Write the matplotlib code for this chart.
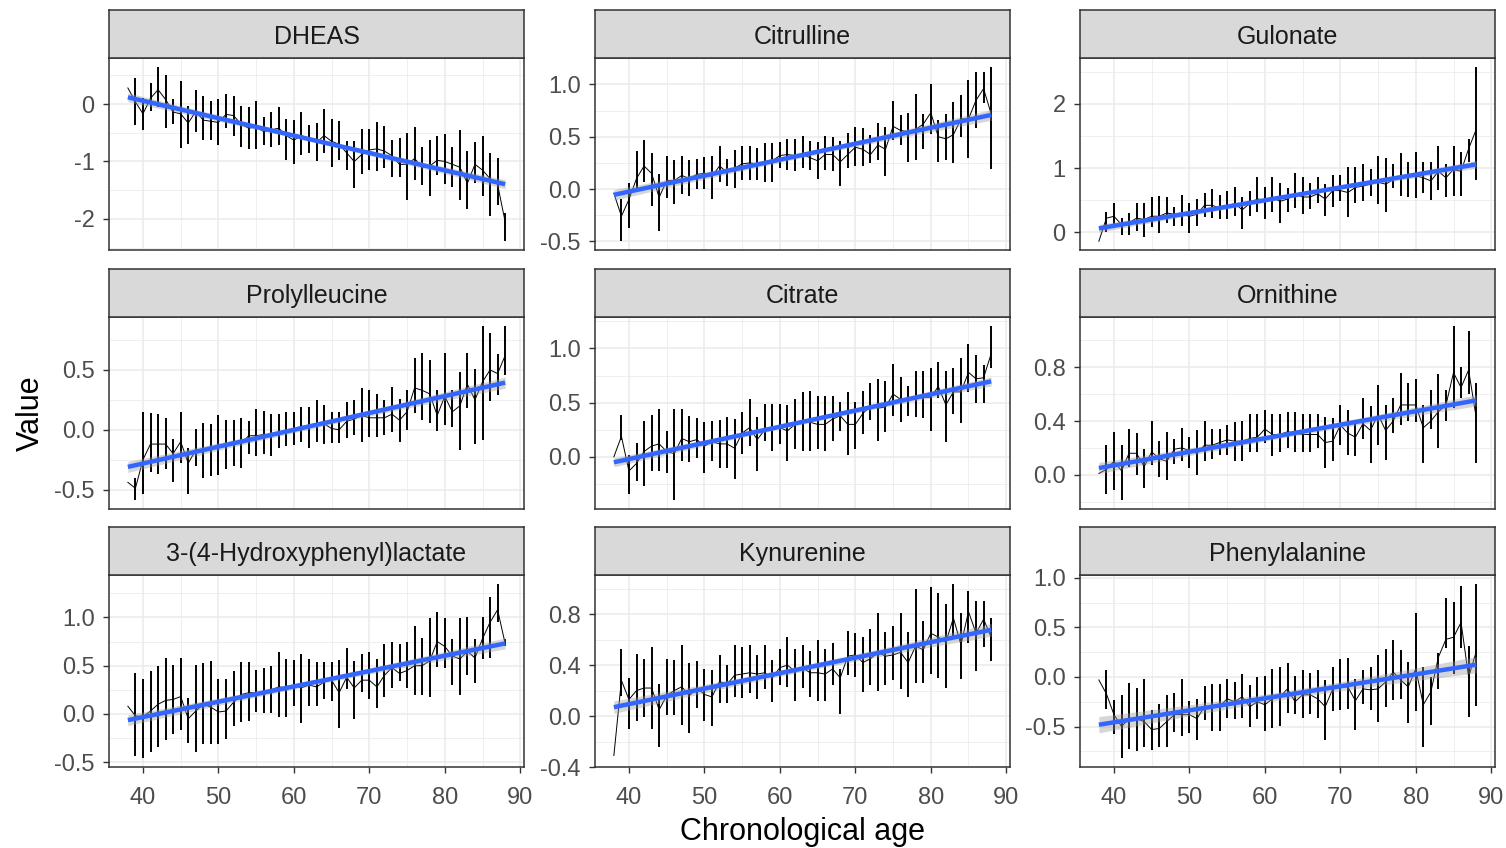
#!/usr/bin/env python3
'''
Mean metabolite value by chronological age, 3x3 facets with lm fit
'''

import numpy as np
import matplotlib
matplotlib.use('Agg')
import matplotlib.pyplot as plt
from matplotlib.ticker import AutoMinorLocator

plt.rcParams['font.family'] = ['Liberation Sans', 'DejaVu Sans']

# ages for the mean line; error bars start one year later
ages = list(range(38, 89))
bar_ages = ages[1:]

dheas_mean = [0.28, 0.04, -0.17, 0.10, 0.25, 0.08, -0.14, -0.17, -0.33, -0.13, -0.28, -0.30, -0.32, -0.18, -0.20, -0.35, -0.42, -0.40, -0.48, -0.45, -0.42, -0.55, -0.63, -0.55, -0.60, -0.67, -0.55, -0.65, -0.70, -0.85, -1.00, -0.88, -0.80, -0.78, -0.82, -0.90, -1.05, -1.05, -0.95, -1.10, -1.08, -0.98, -1.00, -1.05, -1.10, -1.38, -1.05, -1.15, -1.30, -1.40, -2.05]
dheas_hi = [0.45, 0.10, 0.37, 0.65, 0.51, 0.09, 0.41, -0.03, 0.24, 0.14, 0.05, 0.09, 0.18, 0.14, -0.03, -0.06, 0.05, -0.23, -0.13, -0.06, -0.26, -0.28, -0.13, -0.36, -0.33, -0.09, -0.26, -0.30, -0.65, -0.65, -0.43, -0.43, -0.31, -0.39, -0.63, -0.60, -0.50, -0.40, -0.74, -0.63, -0.55, -0.53, -0.74, -0.45, -0.81, -0.66, -0.56, -0.86, -0.94, -1.90]
dheas_lo = [-0.37, -0.46, -0.12, -0.06, -0.41, -0.35, -0.76, -0.69, -0.49, -0.62, -0.62, -0.72, -0.41, -0.55, -0.74, -0.78, -0.78, -0.72, -0.75, -0.72, -0.97, -1.04, -0.89, -0.86, -1.00, -0.86, -1.10, -0.97, -1.14, -1.47, -1.21, -1.15, -1.17, -1.12, -1.27, -1.27, -1.67, -1.33, -1.41, -1.61, -1.24, -1.39, -1.44, -1.67, -1.82, -1.38, -1.61, -1.95, -1.76, -2.39]

citrulline_mean = [-0.04, -0.26, -0.10, 0.10, 0.22, 0.15, -0.08, 0.08, 0.08, 0.13, 0.10, 0.14, 0.15, 0.12, 0.22, 0.16, 0.20, 0.24, 0.25, 0.24, 0.25, 0.27, 0.32, 0.33, 0.32, 0.33, 0.30, 0.27, 0.33, 0.33, 0.26, 0.33, 0.40, 0.38, 0.33, 0.42, 0.38, 0.60, 0.56, 0.55, 0.57, 0.62, 0.73, 0.50, 0.48, 0.52, 0.67, 0.67, 0.85, 0.96, 0.72]
citrulline_hi = [-0.10, 0.06, 0.36, 0.47, 0.34, 0.14, 0.32, 0.28, 0.32, 0.28, 0.29, 0.31, 0.32, 0.41, 0.29, 0.37, 0.41, 0.41, 0.39, 0.44, 0.44, 0.45, 0.48, 0.48, 0.51, 0.46, 0.45, 0.51, 0.50, 0.46, 0.54, 0.59, 0.58, 0.52, 0.63, 0.59, 0.84, 0.71, 0.73, 0.91, 0.72, 1.00, 0.66, 0.72, 0.83, 0.90, 1.04, 1.12, 1.12, 1.17]
citrulline_lo = [-0.50, -0.37, -0.01, 0.07, -0.16, -0.40, -0.09, -0.14, -0.05, -0.07, 0.00, 0.00, -0.10, 0.07, 0.03, 0.01, 0.09, 0.09, 0.09, 0.07, 0.07, 0.20, 0.18, 0.17, 0.20, 0.18, 0.10, 0.18, 0.17, 0.03, 0.20, 0.22, 0.22, 0.25, 0.28, 0.12, 0.47, 0.42, 0.26, 0.28, 0.38, 0.53, 0.26, 0.28, 0.25, 0.50, 0.30, 0.58, 0.82, 0.19]

gulonate_mean = [-0.14, 0.22, 0.25, 0.12, 0.15, 0.22, 0.20, 0.25, 0.25, 0.30, 0.28, 0.28, 0.25, 0.28, 0.42, 0.42, 0.38, 0.40, 0.45, 0.35, 0.45, 0.52, 0.50, 0.55, 0.48, 0.52, 0.60, 0.55, 0.55, 0.60, 0.52, 0.65, 0.65, 0.62, 0.70, 0.72, 0.75, 0.78, 0.75, 0.82, 0.88, 0.88, 0.88, 0.85, 0.80, 0.95, 0.85, 0.98, 0.95, 1.30, 1.60]
gulonate_hi = [0.32, 0.45, 0.22, 0.30, 0.45, 0.45, 0.55, 0.56, 0.55, 0.39, 0.58, 0.46, 0.52, 0.62, 0.67, 0.58, 0.65, 0.70, 0.55, 0.65, 0.86, 0.71, 0.86, 0.77, 0.69, 0.92, 0.86, 0.77, 0.86, 0.76, 0.89, 0.89, 1.01, 1.01, 1.07, 0.98, 1.19, 1.16, 1.07, 1.23, 1.10, 1.25, 1.10, 1.10, 1.34, 1.07, 1.34, 1.25, 1.45, 2.58]
gulonate_lo = [0.00, 0.09, -0.04, -0.05, 0.02, -0.07, 0.09, -0.01, 0.14, 0.10, 0.10, -0.01, 0.10, 0.24, 0.22, 0.20, 0.20, 0.26, 0.05, 0.26, 0.32, 0.21, 0.32, 0.14, 0.31, 0.38, 0.29, 0.36, 0.45, 0.25, 0.40, 0.48, 0.24, 0.45, 0.48, 0.57, 0.44, 0.32, 0.69, 0.57, 0.55, 0.53, 0.62, 0.51, 0.66, 0.55, 0.57, 0.57, 1.10, 0.81]

prolylleucine_mean = [-0.44, -0.49, -0.25, -0.12, -0.12, -0.12, -0.20, -0.10, -0.28, -0.17, -0.17, -0.17, -0.13, -0.12, -0.10, -0.12, -0.05, -0.05, -0.04, -0.05, -0.02, -0.02, 0.00, 0.03, 0.02, 0.05, 0.05, 0.01, 0.00, 0.07, 0.09, 0.12, 0.10, 0.10, 0.10, 0.13, 0.08, 0.15, 0.35, 0.33, 0.30, 0.12, 0.28, 0.15, 0.20, 0.38, 0.25, 0.40, 0.50, 0.47, 0.62]
prolylleucine_hi = [-0.40, 0.15, 0.14, 0.13, 0.10, -0.08, 0.15, -0.15, 0.01, 0.06, 0.05, 0.12, 0.08, 0.08, 0.10, 0.07, 0.17, 0.16, 0.13, 0.13, 0.15, 0.15, 0.19, 0.19, 0.25, 0.21, 0.15, 0.15, 0.23, 0.25, 0.35, 0.33, 0.30, 0.25, 0.36, 0.26, 0.33, 0.60, 0.64, 0.58, 0.33, 0.64, 0.33, 0.48, 0.64, 0.51, 0.87, 0.81, 0.63, 0.87]
prolylleucine_lo = [-0.59, -0.54, -0.35, -0.37, -0.33, -0.44, -0.28, -0.54, -0.30, -0.40, -0.39, -0.38, -0.33, -0.30, -0.32, -0.20, -0.22, -0.20, -0.22, -0.15, -0.14, -0.13, -0.10, -0.15, -0.10, -0.12, -0.11, -0.11, -0.07, -0.04, -0.10, -0.06, -0.06, -0.04, -0.02, -0.10, 0.00, 0.14, 0.08, 0.06, -0.01, 0.04, 0.02, -0.17, 0.18, -0.12, -0.09, 0.24, 0.29, 0.46]

citrate_mean = [0.00, 0.19, -0.13, -0.06, 0.05, 0.10, 0.12, 0.05, 0.03, 0.17, 0.14, 0.16, 0.10, 0.14, 0.12, 0.12, 0.08, 0.22, 0.27, 0.16, 0.25, 0.27, 0.27, 0.24, 0.30, 0.33, 0.32, 0.30, 0.30, 0.35, 0.38, 0.30, 0.30, 0.40, 0.47, 0.45, 0.46, 0.58, 0.53, 0.52, 0.54, 0.55, 0.55, 0.65, 0.48, 0.60, 0.60, 0.78, 0.72, 0.73, 0.95]
citrate_hi = [0.39, 0.02, 0.13, 0.33, 0.39, 0.44, 0.24, 0.44, 0.44, 0.38, 0.36, 0.32, 0.33, 0.34, 0.37, 0.35, 0.41, 0.53, 0.37, 0.49, 0.49, 0.49, 0.48, 0.53, 0.60, 0.61, 0.56, 0.56, 0.56, 0.51, 0.60, 0.51, 0.61, 0.68, 0.72, 0.70, 0.86, 0.74, 0.65, 0.79, 0.79, 0.82, 0.88, 0.79, 0.82, 0.91, 1.04, 0.94, 0.85, 1.21]
citrate_lo = [0.16, -0.34, -0.22, -0.27, -0.13, -0.13, -0.15, -0.40, -0.04, -0.05, -0.01, -0.15, -0.04, -0.10, -0.10, -0.20, 0.03, 0.10, -0.13, 0.15, 0.05, 0.12, -0.04, 0.07, 0.05, 0.05, 0.07, 0.05, 0.15, 0.24, 0.02, 0.07, 0.21, 0.34, 0.15, 0.23, 0.38, 0.32, 0.38, 0.37, 0.36, 0.24, 0.54, 0.14, 0.40, 0.31, 0.60, 0.50, 0.50, 0.82]

ornithine_mean = [0.01, 0.04, 0.10, 0.03, 0.16, 0.16, 0.06, 0.17, 0.12, 0.10, 0.19, 0.20, 0.18, 0.16, 0.22, 0.22, 0.24, 0.26, 0.25, 0.25, 0.27, 0.28, 0.34, 0.30, 0.30, 0.32, 0.31, 0.30, 0.30, 0.30, 0.24, 0.25, 0.37, 0.31, 0.28, 0.38, 0.33, 0.45, 0.33, 0.40, 0.52, 0.52, 0.52, 0.35, 0.40, 0.47, 0.52, 0.76, 0.65, 0.78, 0.43]
ornithine_hi = [0.22, 0.32, 0.22, 0.34, 0.31, 0.19, 0.40, 0.25, 0.32, 0.27, 0.35, 0.28, 0.33, 0.40, 0.34, 0.34, 0.37, 0.39, 0.40, 0.45, 0.45, 0.48, 0.45, 0.45, 0.47, 0.47, 0.45, 0.45, 0.45, 0.43, 0.42, 0.52, 0.48, 0.40, 0.57, 0.51, 0.67, 0.52, 0.57, 0.76, 0.68, 0.71, 0.52, 0.63, 0.75, 0.63, 1.11, 0.80, 1.07, 0.68]
ornithine_lo = [-0.14, -0.11, -0.19, 0.06, 0.00, -0.10, 0.07, -0.02, -0.04, 0.08, 0.10, 0.05, 0.00, 0.10, 0.12, 0.15, 0.15, 0.10, 0.10, 0.17, 0.17, 0.24, 0.14, 0.17, 0.20, 0.17, 0.17, 0.17, 0.20, 0.05, 0.10, 0.22, 0.15, 0.14, 0.27, 0.09, 0.22, 0.11, 0.31, 0.37, 0.40, 0.39, 0.09, 0.34, 0.20, 0.40, 0.50, 0.57, 0.60, 0.09]

hpl_mean = [0.08, -0.02, -0.03, 0.03, 0.10, 0.14, 0.15, 0.18, -0.05, 0.03, 0.10, 0.07, 0.02, 0.03, 0.12, 0.20, 0.22, 0.22, 0.23, 0.25, 0.28, 0.27, 0.30, 0.27, 0.30, 0.28, 0.33, 0.35, 0.22, 0.38, 0.27, 0.35, 0.35, 0.28, 0.40, 0.48, 0.42, 0.45, 0.50, 0.50, 0.55, 0.75, 0.70, 0.60, 0.57, 0.65, 0.58, 0.78, 0.95, 1.08, 0.73]
hpl_hi = [0.42, 0.36, 0.44, 0.50, 0.58, 0.51, 0.58, 0.16, 0.51, 0.53, 0.55, 0.36, 0.36, 0.44, 0.54, 0.54, 0.46, 0.48, 0.50, 0.64, 0.57, 0.56, 0.62, 0.57, 0.54, 0.54, 0.54, 0.56, 0.68, 0.55, 0.62, 0.64, 0.57, 0.72, 0.75, 0.72, 0.75, 0.91, 0.79, 0.99, 1.06, 0.99, 0.78, 0.99, 1.01, 0.78, 1.01, 1.21, 1.35, 0.78]
hpl_lo = [-0.44, -0.46, -0.40, -0.34, -0.27, -0.21, -0.17, -0.30, -0.40, -0.31, -0.31, -0.31, -0.26, -0.13, -0.08, -0.07, 0.02, 0.01, 0.01, -0.03, -0.03, 0.08, -0.09, 0.08, 0.08, 0.15, 0.13, -0.15, 0.26, -0.05, 0.23, 0.15, 0.06, 0.18, 0.27, 0.34, 0.27, 0.20, 0.20, 0.18, 0.49, 0.48, 0.30, 0.20, 0.40, 0.32, 0.57, 0.58, 0.95, 0.70]

kynurenine_mean = [-0.31, 0.28, 0.13, 0.20, 0.22, 0.22, 0.05, 0.16, 0.20, 0.23, 0.16, 0.22, 0.17, 0.15, 0.27, 0.25, 0.32, 0.33, 0.34, 0.33, 0.34, 0.30, 0.38, 0.40, 0.35, 0.38, 0.34, 0.34, 0.33, 0.37, 0.30, 0.47, 0.48, 0.42, 0.45, 0.50, 0.47, 0.48, 0.50, 0.42, 0.55, 0.52, 0.65, 0.62, 0.58, 0.77, 0.56, 0.82, 0.65, 0.76, 0.62]
kynurenine_hi = [0.53, 0.30, 0.49, 0.45, 0.54, 0.25, 0.45, 0.44, 0.56, 0.42, 0.43, 0.37, 0.36, 0.48, 0.40, 0.56, 0.54, 0.56, 0.48, 0.56, 0.44, 0.53, 0.62, 0.53, 0.56, 0.51, 0.60, 0.53, 0.57, 0.37, 0.67, 0.65, 0.62, 0.68, 0.81, 0.66, 0.71, 0.81, 0.66, 1.00, 0.75, 1.01, 0.97, 0.88, 1.04, 0.81, 0.98, 0.90, 0.90, 0.77]
kynurenine_lo = [0.16, -0.10, -0.04, -0.01, -0.10, -0.24, 0.01, 0.01, -0.07, -0.13, 0.06, -0.04, -0.08, 0.10, 0.10, 0.15, 0.14, 0.18, 0.13, 0.21, 0.11, 0.24, 0.23, 0.12, 0.22, 0.15, 0.12, 0.12, 0.24, 0.02, 0.32, 0.31, 0.19, 0.24, 0.20, 0.24, 0.28, 0.21, 0.15, 0.26, 0.26, 0.33, 0.30, 0.22, 0.62, 0.29, 0.57, 0.35, 0.54, 0.43]

phenylalanine_mean = [-0.03, -0.17, -0.38, -0.50, -0.42, -0.42, -0.45, -0.53, -0.52, -0.45, -0.38, -0.38, -0.38, -0.42, -0.30, -0.30, -0.30, -0.22, -0.25, -0.20, -0.30, -0.25, -0.28, -0.22, -0.20, -0.12, -0.25, -0.18, -0.18, -0.22, -0.30, -0.12, -0.10, -0.10, -0.24, -0.12, -0.13, -0.12, -0.05, 0.05, -0.03, -0.10, 0.08, -0.28, -0.15, 0.20, 0.38, 0.40, 0.55, 0.00, 0.25]
phenylalanine_hi = [0.07, -0.23, -0.18, -0.06, -0.11, -0.02, -0.33, -0.27, -0.18, -0.16, -0.02, -0.24, -0.22, -0.09, -0.07, -0.07, -0.02, -0.05, 0.03, -0.08, 0.00, 0.01, 0.08, 0.10, 0.14, 0.01, 0.07, 0.04, 0.07, -0.03, 0.10, 0.18, 0.19, -0.02, 0.07, 0.10, 0.22, 0.28, 0.37, 0.27, 0.15, 0.64, 0.10, 0.00, 0.24, 0.80, 0.76, 0.92, 0.31, 0.94]
phenylalanine_lo = [-0.32, -0.58, -0.82, -0.73, -0.75, -0.71, -0.74, -0.71, -0.71, -0.56, -0.60, -0.57, -0.64, -0.43, -0.54, -0.54, -0.41, -0.42, -0.41, -0.50, -0.42, -0.54, -0.51, -0.49, -0.36, -0.37, -0.41, -0.37, -0.41, -0.64, -0.34, -0.33, -0.32, -0.53, -0.27, -0.33, -0.45, -0.30, -0.23, -0.22, -0.46, -0.34, -0.71, -0.48, -0.12, 0.29, 0.03, 0.29, -0.40, -0.29]

titles = ["DHEAS", "Citrulline", "Gulonate",
          "Prolylleucine", "Citrate", "Ornithine",
          "3-(4-Hydroxyphenyl)lactate", "Kynurenine", "Phenylalanine"]

yticks = [[-2, -1, 0], [-0.5, 0.0, 0.5, 1.0], [0, 1, 2],
          [-0.5, 0.0, 0.5], [0.0, 0.5, 1.0], [0.0, 0.4, 0.8],
          [-0.5, 0.0, 0.5, 1.0], [-0.4, 0.0, 0.4, 0.8], [-0.5, 0.0, 0.5, 1.0]]
ytick_labels = [["-2", "-1", "0"], ["-0.5", "0.0", "0.5", "1.0"], ["0", "1", "2"],
                ["-0.5", "0.0", "0.5"], ["0.0", "0.5", "1.0"], ["0.0", "0.4", "0.8"],
                ["-0.5", "0.0", "0.5", "1.0"], ["-0.4", "0.0", "0.4", "0.8"],
                ["-0.5", "0.0", "0.5", "1.0"]]
xticks = [40, 50, 60, 70, 80, 90]

series = [(dheas_mean, dheas_lo, dheas_hi),
          (citrulline_mean, citrulline_lo, citrulline_hi),
          (gulonate_mean, gulonate_lo, gulonate_hi),
          (prolylleucine_mean, prolylleucine_lo, prolylleucine_hi),
          (citrate_mean, citrate_lo, citrate_hi),
          (ornithine_mean, ornithine_lo, ornithine_hi),
          (hpl_mean, hpl_lo, hpl_hi),
          (kynurenine_mean, kynurenine_lo, kynurenine_hi),
          (phenylalanine_mean, phenylalanine_lo, phenylalanine_hi)]

W, H = 1506, 848
col_x = [109, 595, 1080]
row_y = [58, 317, 575]
panel_w, panel_h, strip_h = 415, 192, 48

BORDER = '#333333'
GRID = '#EBEBEB'
TICKSIZE = 17


def rect(x, y, w, h):
    return [x / W, 1 - (y + h) / H, w / W, h / H]


def lm_band(x, y):
    x = np.asarray(x, float)
    y = np.asarray(y, float)
    b, a = np.polyfit(x, y, 1)
    xs = np.linspace(x.min(), x.max(), 80)
    fit = a + b * xs
    resid = y - (a + b * x)
    n = len(x)
    s = np.sqrt(np.sum(resid ** 2) / (n - 2))
    sxx = np.sum((x - x.mean()) ** 2)
    se = s * np.sqrt(1.0 / n + (xs - x.mean()) ** 2 / sxx)
    return xs, fit, 2.01 * se


fig = plt.figure(figsize=(W / 100, H / 100), dpi=100)

for i, (mean, lo, hi) in enumerate(series):
    r, c = divmod(i, 3)
    ax = fig.add_axes(rect(col_x[c], row_y[r], panel_w, panel_h))

    ax.plot(ages, mean, color='black', lw=0.7, zorder=3)
    ax.vlines(bar_ages, lo, hi, color='black', lw=1.4, zorder=3)

    xs, fit, ci = lm_band(ages, mean)
    ax.fill_between(xs, fit - ci, fit + ci, color='#999999', alpha=0.4,
                    lw=0, zorder=4)
    ax.plot(xs, fit, color='#3366FF', lw=3.2, zorder=5, solid_capstyle='butt')

    # ggplot-like 5% expansion
    ymin = min(min(lo), min(mean))
    ymax = max(max(hi), max(mean))
    pad = 0.05 * (ymax - ymin)
    ax.set_ylim(ymin - pad, ymax + pad)
    xpad = 0.05 * (ages[-1] - ages[0])
    ax.set_xlim(ages[0] - xpad, ages[-1] + xpad)

    ax.set_yticks(yticks[i])
    ax.set_yticklabels(ytick_labels[i])
    ax.set_xticks(xticks)
    ax.xaxis.set_minor_locator(AutoMinorLocator(2))
    ax.yaxis.set_minor_locator(AutoMinorLocator(2))
    ax.grid(which='major', color=GRID, lw=1.1, zorder=0)
    ax.grid(which='minor', color=GRID, lw=0.55, zorder=0)
    ax.set_axisbelow(True)

    ax.tick_params(which='minor', length=0)
    ax.tick_params(axis='y', which='major', length=4.3, width=1.0, color=BORDER,
                   labelcolor='#4D4D4D', labelsize=TICKSIZE, pad=6)
    if r == 2:
        ax.tick_params(axis='x', which='major', length=4.3, width=1.0, color=BORDER,
                       labelcolor='#4D4D4D', labelsize=TICKSIZE, pad=10)
    else:
        ax.tick_params(axis='x', which='major', length=0, labelbottom=False)

    for sp in ax.spines.values():
        sp.set_color(BORDER)
        sp.set_linewidth(1.1)
        sp.set_zorder(6)

    sax = fig.add_axes(rect(col_x[c], row_y[r] - strip_h, panel_w, strip_h))
    sax.set_facecolor('#D9D9D9')
    sax.set_xticks([])
    sax.set_yticks([])
    for sp in sax.spines.values():
        sp.set_color(BORDER)
        sp.set_linewidth(1.1)
    sax.text(0.5, 0.44, titles[i], ha='center', va='center', fontsize=18,
             color='#1A1A1A', transform=sax.transAxes)

fig.text(31 / W, 1 - 413 / H, 'Value', rotation=90, ha='center', va='center',
         fontsize=22, color='black')
fig.text(802 / W, 1 - 832 / H, 'Chronological age', ha='center', va='center',
         fontsize=22, color='black')

fig.savefig('out.png', dpi=100, facecolor='white')
